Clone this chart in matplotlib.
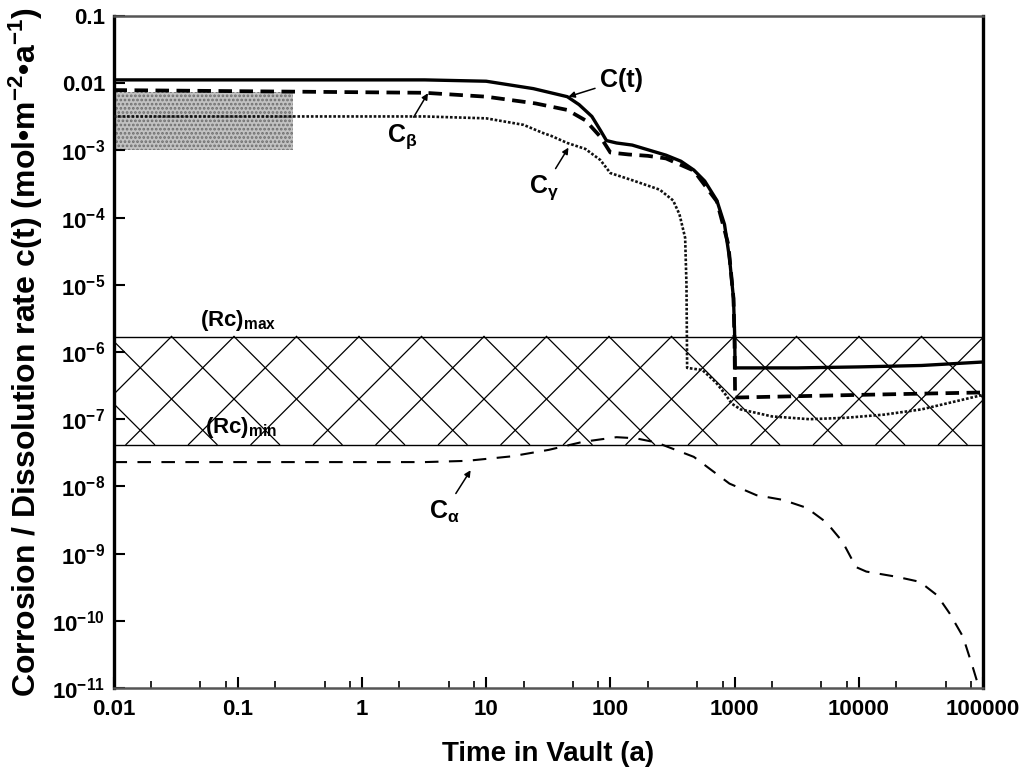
import numpy as np
import matplotlib
matplotlib.use("Agg")
import matplotlib.pyplot as plt
from matplotlib.ticker import LogLocator, FixedLocator, FixedFormatter, NullFormatter, NullLocator

plt.rcParams['font.family'] = ['Liberation Sans', 'DejaVu Sans']
plt.rcParams['font.weight'] = 'bold'
plt.rcParams['mathtext.fontset'] = 'custom'
plt.rcParams['mathtext.rm'] = 'Liberation Sans:bold'
plt.rcParams['mathtext.bf'] = 'Liberation Sans:bold'
plt.rcParams['mathtext.it'] = 'Liberation Sans:bold'
plt.rcParams['mathtext.sf'] = 'Liberation Sans:bold'
plt.rcParams['hatch.linewidth'] = 1.3

# ---- series: time in vault (a) and rate (mol m^-2 a^-1) ----
t_total = [0.01, 3.2, 10, 24, 45, 56, 71, 83, 93, 112, 150, 280, 370, 470, 575, 720,
           830, 910, 980, 1000, 1010, 3200, 10000, 32000, 100000]
c_total = [0.0112, 0.0112, 0.0107, 0.0083, 0.0063, 0.0048, 0.0032, 0.0020, 0.0014,
           0.00129, 0.0012, 0.00085, 0.00069, 0.00051, 0.00035, 0.00018, 7.9e-5,
           2.5e-5, 6.3e-6, 2.0e-6, 5.8e-7, 5.8e-7, 6.0e-7, 6.3e-7, 7.1e-7]

t_beta = [0.01, 3.2, 10, 25, 45, 63, 83, 100, 140, 200, 280, 470, 720, 890, 980,
          1000, 1010, 3200, 10000, 32000, 100000]
c_beta = [0.0079, 0.0072, 0.0063, 0.0050, 0.0040, 0.0028, 0.0016, 0.00093, 0.00087,
          0.00083, 0.00076, 0.0005, 0.000174, 4.0e-5, 6.3e-6, 1.3e-6, 2.1e-7,
          2.2e-7, 2.3e-7, 2.4e-7, 2.5e-7]

t_gamma = [0.01, 3.2, 10, 20, 29, 33, 45, 63, 83, 100, 150, 250, 320, 360, 400, 410,
           415, 550, 710, 850, 950, 1120, 2000, 4000, 7900, 16000, 32000, 100000]
c_gamma = [0.0032, 0.0032, 0.0030, 0.0024, 0.0018, 0.00166, 0.00129, 0.00105, 0.00072,
           0.00046, 0.00036, 0.00026, 0.00018, 0.000112, 5.0e-5, 1.0e-5, 5.8e-7,
           5.4e-7, 3.5e-7, 2.3e-7, 1.7e-7, 1.4e-7, 1.1e-7, 1.0e-7, 1.05e-7, 1.17e-7,
           1.4e-7, 2.3e-7]

t_alpha = [0.01, 3.2, 7, 16, 32, 60, 112, 160, 235, 470, 910, 1500, 2450, 3800, 5500,
           7400, 9500, 11500, 20400, 31000, 42700, 53700, 69000, 83000, 93000]
c_alpha = [2.3e-8, 2.3e-8, 2.4e-8, 2.8e-8, 3.5e-8, 4.6e-8, 5.4e-8, 5.2e-8, 4.5e-8,
           2.75e-8, 1.1e-8, 7.4e-9, 6.3e-9, 4.8e-9, 2.9e-9, 1.5e-9, 6.3e-10, 5.4e-10,
           4.5e-10, 3.8e-10, 2.4e-10, 1.3e-10, 5.8e-11, 2.0e-11, 1.0e-11]

# critical corrosion-rate band
rc_max = 1.7e-6
rc_min = 4.2e-8

# initial-rate range box
box_t = [0.01, 0.28]
box_c = [1.0e-3, 7.5e-3]

x_ticks = [0.01, 0.1, 1, 10, 100, 1000, 10000, 100000]
x_labels = ['0.01', '0.1', '1', '10', '100', '1000', '10000', '100000']
y_ticks = [1e-1, 1e-2, 1e-3, 1e-4, 1e-5, 1e-6, 1e-7, 1e-8, 1e-9, 1e-10, 1e-11]
y_labels = ['0.1', '0.01'] + [r'$\mathbf{10^{-%d}}$' % k for k in range(3, 12)]

W, H, DPI = 1027, 770, 100
fig = plt.figure(figsize=(W / DPI, H / DPI), dpi=DPI)
ax = fig.add_axes([113.5 / W, 1 - 688 / H, (983 - 113.5) / W, (688 - 16) / H])
ax.set_xscale('log')
ax.set_yscale('log')
ax.set_xlim(0.01, 100000)
ax.set_ylim(1e-11, 0.1)

# stippled initial-rate box
ax.fill_between(box_t, box_c[0], box_c[1], facecolor='#c2c2c2', edgecolor='#6e6e6e',
                hatch='....', lw=0, zorder=1)

# critical band outline
ax.axhline(rc_max, color='black', lw=1.0, zorder=2)
ax.axhline(rc_min, color='black', lw=1.0, zorder=2)

# diamond cross-hatching inside the band, drawn at 45 deg in screen space
fig.canvas.draw()
to_px = ax.transData
inv_axes = ax.transAxes.inverted()
x_left = to_px.transform((0.01, rc_max))[0]
x_right = to_px.transform((100000, rc_max))[0]
y_top = to_px.transform((1, rc_max))[1]
y_bot = to_px.transform((1, rc_min))[1]
band_h = y_top - y_bot
spacing = 45 * DPI / 72.0
phase = 58.0
xs0 = x_left + phase - spacing * np.ceil((phase + band_h) / spacing)
while xs0 < x_right + band_h:
    for sgn in (1, -1):
        p = inv_axes.transform([(xs0, y_top), (xs0 + sgn * band_h, y_bot)])
        ax.plot(p[:, 0], p[:, 1], transform=ax.transAxes, color='black', lw=0.9,
                zorder=2, clip_on=True)
    xs0 += spacing

# rate curves
ax.plot(t_total, c_total, color='black', lw=2.4, zorder=5, solid_joinstyle='round')
ax.plot(t_beta, c_beta, color='black', lw=2.7, ls=(0, (3.6, 2.0)), zorder=4)
ax.plot(t_gamma, c_gamma, color='#111111', lw=1.9, ls=(0, (1, 0.7)), zorder=4)
ax.plot(t_alpha, c_alpha, color='black', lw=1.5, ls=(0, (6.5, 5.0)), zorder=4)

# curve labels
arrow = dict(arrowstyle='-|>', color='black', lw=1.1, mutation_scale=9,
             shrinkA=2, shrinkB=0)
lab_kw = dict(fontsize=18, fontweight='bold', ha='center', va='center')
ax.annotate('C(t)', xy=(46, 0.0063), xytext=(124, 0.0112), arrowprops=arrow, **lab_kw)
ax.annotate(r'C$_{\beta}$', xy=(3.4, 0.0071), xytext=(2.1, 0.0016), arrowprops=arrow,
            **lab_kw)
ax.annotate(r'C$_{\gamma}$', xy=(46, 0.0011), xytext=(29, 2.75e-4), arrowprops=arrow,
            **lab_kw)
ax.annotate(r'C$_{\alpha}$', xy=(7.5, 1.74e-8), xytext=(4.6, 4.2e-9), arrowprops=arrow,
            **lab_kw)

ax.text(0.05, 1.95e-6, r'(Rc)$_{\mathbf{max}}$', fontsize=16, fontweight='bold',
        ha='left', va='bottom', zorder=6)
ax.text(0.055, 7.6e-8, r'(Rc)$_{\mathbf{min}}$', fontsize=16, fontweight='bold',
        ha='left', va='center', zorder=6)

# axes styling
ax.xaxis.set_major_locator(FixedLocator(x_ticks))
ax.xaxis.set_major_formatter(FixedFormatter(x_labels))
ax.xaxis.set_minor_locator(LogLocator(base=10, subs=[2, 5, 8], numticks=20))
ax.xaxis.set_minor_formatter(NullFormatter())
ax.yaxis.set_major_locator(FixedLocator(y_ticks))
ax.yaxis.set_major_formatter(FixedFormatter(y_labels))
ax.yaxis.set_minor_locator(NullLocator())
ax.tick_params(axis='both', which='major', direction='in', length=8, width=1.5,
               labelsize=16, top=False, right=False)
ax.tick_params(axis='x', which='major', pad=8)
ax.tick_params(axis='y', which='major', pad=6)
ax.tick_params(axis='x', which='minor', direction='in', length=5, width=1.2,
               top=False)
for lab in ax.get_xticklabels() + ax.get_yticklabels():
    lab.set_fontweight('bold')

for side in ('left', 'right'):
    ax.spines[side].set_linewidth(2.4)
    ax.spines[side].set_color('black')
for side in ('top', 'bottom'):
    ax.spines[side].set_linewidth(1.8)
    ax.spines[side].set_color('#555555')

ax.set_xlabel('Time in Vault (a)', fontsize=20, fontweight='bold', labelpad=15)
ax.set_ylabel(r'Corrosion / Dissolution rate c(t) (mol•m$^{\mathbf{-2}}$•a$^{\mathbf{-1}}$)',
              fontsize=23, fontweight='bold', labelpad=5)

fig.savefig('out.png', dpi=DPI)
